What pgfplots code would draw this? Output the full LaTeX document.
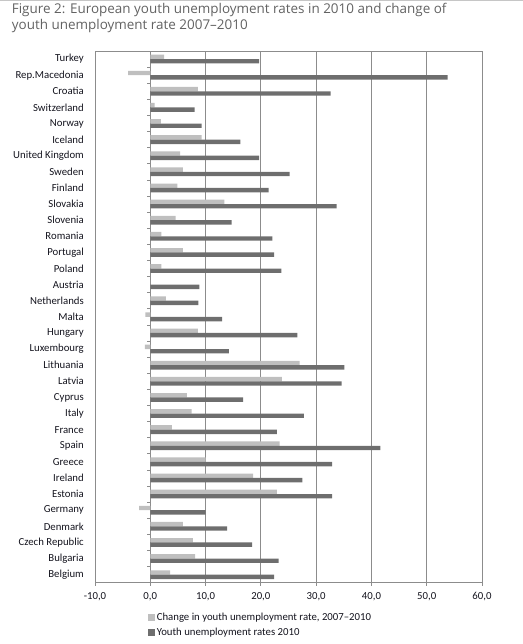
\documentclass[border=0pt]{standalone}
\usepackage{pgfplots}
\usepackage{pgfplotstable}
\pgfplotsset{compat=1.18}
\usepackage{fontspec}
\setmainfont{Carlito}
\newfontfamily\titlefont{Open Sans}
\definecolor{lightbar}{HTML}{BFBFBF}
\definecolor{darkbar}{HTML}{6E6E6E}
\definecolor{gridc}{HTML}{8C8C8C}
\definecolor{txt}{HTML}{14141E}
\definecolor{titlec}{HTML}{626262}
\pgfplotstableread{
y change rate
0 3.6 22.4
1 8.1 23.2
2 7.7 18.4
3 5.9 13.9
4 -2.0 10.0
5 22.9 32.9
6 18.6 27.5
7 10.0 32.9
8 23.4 41.6
9 3.9 22.9
10 7.5 27.8
11 6.6 16.8
12 23.8 34.6
13 27.0 35.1
14 -1.0 14.2
15 8.6 26.6
16 -0.9 13.0
17 2.8 8.7
18 0.0 8.9
19 2.0 23.7
20 5.9 22.4
21 2.0 22.1
22 4.6 14.7
23 13.4 33.7
24 4.9 21.4
25 5.9 25.2
26 5.4 19.7
27 9.3 16.3
28 1.9 9.3
29 0.8 8.0
30 8.6 32.6
31 -4.0 53.8
32 2.5 19.7
}\data
\begin{document}
\begin{tikzpicture}
\useasboundingbox (0,0) rectangle (523bp,-644bp);
\draw[gray!45, line width=0.8bp] (0,-0.5bp) -- (523bp,-0.5bp);
\node[anchor=base west, inner sep=0pt, font=\titlefont\fontsize{13.5}{15}\selectfont, text=titlec] at (11.7bp,-13bp) {Figure 2: European youth unemployment rates in 2010 and change of};
\node[anchor=base west, inner sep=0pt, font=\titlefont\fontsize{13.5}{15}\selectfont, text=titlec] at (11.7bp,-29.5bp) {youth unemployment rate 2007–2010};
\begin{axis}[
  at={(95bp,-582.7bp)}, anchor=south west,
  scale only axis, width=387bp, height=531.7bp,
  xmin=-10, xmax=60, ymin=-0.5, ymax=32.5,
  xbar, bar width=4.4bp,
  xtick={-10,0,10,20,30,40,50,60},
  xticklabels={{-10,0},{0,0},{10,0},{20,0},{30,0},{40,0},{50,0},{60,0}},
  ytick={0,...,32},
  yticklabels={Belgium,Bulgaria,Czech Republic,Denmark,Germany,Estonia,Ireland,Greece,Spain,France,Italy,Cyprus,Latvia,Lithuania,Luxembourg,Hungary,Malta,Netherlands,Austria,Poland,Portugal,Romania,Slovenia,Slovakia,Finland,Sweden,United Kingdom,Iceland,Norway,Switzerland,Croatia,Rep.Macedonia,Turkey},
  xmajorgrids,
  major grid style={gridc, line width=0.8bp},
  axis line style={gridc, line width=0.8bp},
  tick align=outside,
  xtick pos=bottom, ytick pos=left,
  major tick length=3bp,
  x tick style={gridc, line width=0.8bp},
  y tick style={draw=none},
  /pgf/number format/assume math mode=true,
  xticklabel style={font=\fontsize{10.8}{12}\selectfont, text=txt, yshift=-3bp},
  yticklabel style={font=\fontsize{10.8}{12}\selectfont, text=txt, inner sep=0pt, xshift=-8bp},
  legend style={at={(0.137,0)}, anchor=north west, yshift=-29bp, draw=none, fill=none,
    font=\fontsize{10.8}{12}\selectfont, text=txt, inner sep=0pt, row sep=2.5bp,
    nodes={inner sep=1.6bp}},
  legend cell align=left,
]
\addplot[fill=lightbar, draw=none, bar shift=2.2bp,
  legend image code/.code={\fill[lightbar] (0bp,-3.5bp) rectangle (7bp,3.5bp);}]
  table[x=change, y=y] {\data};
\addlegendentry{Change in youth unemployment rate, 2007–2010}
\addplot[fill=darkbar, draw=none, bar shift=-2.2bp,
  legend image code/.code={\fill[darkbar] (0bp,-3.5bp) rectangle (7bp,3.5bp);}]
  table[x=rate, y=y] {\data};
\addlegendentry{Youth unemployment rates 2010}
\pgfplotsinvokeforeach{0,...,31}{
  \draw[gridc, line width=0.8bp] (axis cs:0,#1+0.5) -- ([xshift=-3.5bp]axis cs:0,#1+0.5);
}
\end{axis}
\end{tikzpicture}
\end{document}
